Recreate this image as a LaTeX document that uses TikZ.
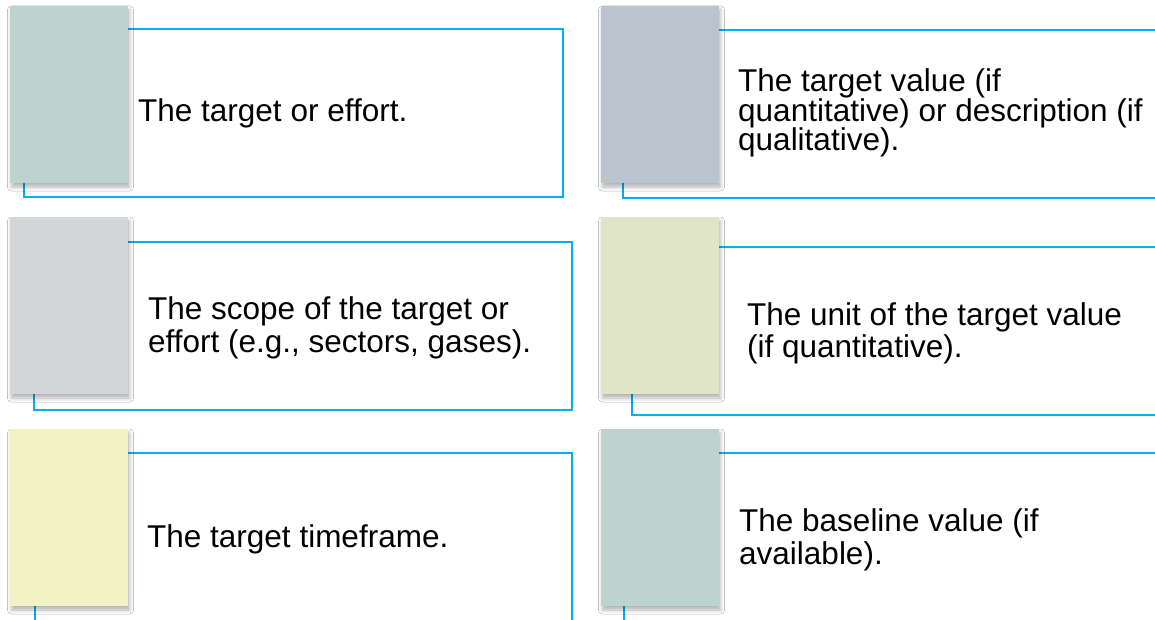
\documentclass[tikz,border=0pt]{standalone}
\usepackage{fontspec}
\setmainfont{Liberation Sans}
\usepackage{tikz}
\usetikzlibrary{shadows.blur}
\definecolor{sage}{RGB}{189, 211, 206}
\definecolor{slate}{RGB}{185, 196, 207}
\definecolor{mist}{RGB}{211, 214, 217}
\definecolor{olive}{RGB}{223, 229, 198}
\definecolor{cream}{RGB}{243, 241, 198}
\definecolor{sky}{RGB}{0, 176, 240}

\begin{document}
\begin{tikzpicture}[x=1pt, y=-1pt,
  frame/.style={draw=sky, line width=2pt, fill=white},
  tab/.style={anchor=north west, inner sep=0pt, outer sep=0pt,
    minimum width=118pt, minimum height=177pt,
    blur shadow={shadow xshift=1.5pt, shadow yshift=-4pt,
      shadow blur radius=4pt, shadow opacity=30}},
  label/.style={anchor=base west, align=left, inner sep=0pt,
    font=\fontsize{31.5}{33}\selectfont}]

  \clip (0, 0) rectangle (1155, 620);
  \fill[white] (0, 0) rectangle (1155, 620);

  % left column
  \draw[frame] (24, 29) rectangle (563, 197);
  \node[tab, fill=sage] (tab1) at (10, 6) {};
  \node[label] (txt1) at (138, 122) {The target or effort.};

  \draw[frame] (34, 242) rectangle (572, 410);
  \node[tab, fill=mist] (tab2) at (10, 217) {};
  \node[label] (txt2) at (148, 352) {The scope of the target or\\effort (e.g., sectors, gases).};

  \draw[frame] (35, 453) rectangle (572, 640);
  \node[tab, fill=cream] (tab3) at (10, 429) {};
  \node[label] (txt3) at (147, 547) {The target timeframe.};

  % right column
  \draw[frame] (623, 30) rectangle (1170, 198);
  \node[tab, fill=slate] (tab4) at (601, 6) {};
  \node[label, font=\fontsize{31.5}{29.5}\selectfont] (txt4) at (738, 151)
    {The target value (if\\quantitative) or description (if\\qualitative).};

  \draw[frame] (632, 247) rectangle (1170, 415);
  \node[tab, fill=olive] (tab5) at (601, 217) {};
  \node[label, font=\fontsize{31.5}{32}\selectfont] (txt5) at (747, 357)
    {The unit of the target value\\(if quantitative).};

  \draw[frame] (624, 453) rectangle (1170, 640);
  \node[tab, fill=sage] (tab6) at (601, 429) {};
  \node[label] (txt6) at (739, 564) {The baseline value (if\\available).};

\end{tikzpicture}
\end{document}
